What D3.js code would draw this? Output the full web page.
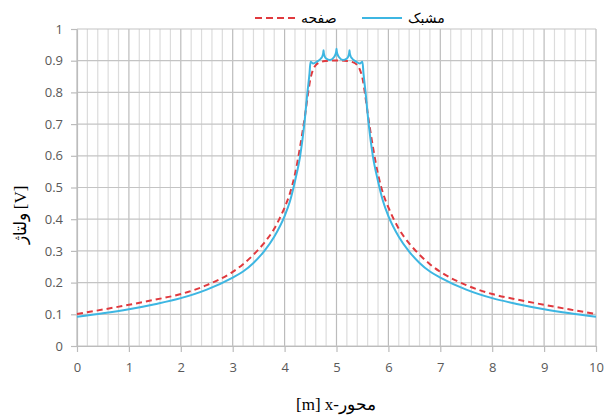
<!DOCTYPE html>
<html>
<head>
<meta charset="utf-8">
<script src="https://cdn.jsdelivr.net/npm/d3@7"></script>
<style>
  body { margin: 0; background: #fff; }
</style>
</head>
<body>
<svg></svg>
<script>
// x positions along the axis [m]
var xPlate = [0, 0.5, 1, 1.5, 2, 2.5, 3, 3.2, 3.4, 3.6, 3.8, 3.9, 4.0, 4.1, 4.2, 4.3, 4.4, 4.45, 4.5, 4.55, 4.6, 4.7, 4.8, 5.0,
              5.2, 5.3, 5.4, 5.45, 5.5, 5.55, 5.6, 5.7, 5.8, 5.9, 6.0, 6.1, 6.2, 6.4, 6.6, 6.8, 7, 7.5, 8, 8.5, 9, 9.5, 10];
var vPlate = [0.101, 0.115, 0.130, 0.146, 0.164, 0.192, 0.234, 0.258, 0.288, 0.324, 0.370, 0.401, 0.437, 0.480, 0.542, 0.630, 0.735, 0.795, 0.845, 0.872, 0.886, 0.896, 0.899, 0.901,
              0.899, 0.896, 0.886, 0.872, 0.845, 0.795, 0.735, 0.630, 0.542, 0.480, 0.437, 0.401, 0.370, 0.324, 0.288, 0.258, 0.234, 0.192, 0.164, 0.146, 0.130, 0.115, 0.101];

var xMesh = [0, 0.5, 1, 1.5, 2, 2.5, 3, 3.2, 3.4, 3.6, 3.8, 4.0, 4.1, 4.2, 4.3, 4.38, 4.44, 4.48, 4.5, 4.55, 4.63, 4.7, 4.73, 4.745, 4.75, 4.755, 4.77, 4.8, 4.875,
             4.95, 4.98, 4.995, 5.0, 5.005, 5.02, 5.05, 5.125, 5.2, 5.23, 5.245, 5.25, 5.255, 5.27, 5.3, 5.37, 5.45, 5.5, 5.52, 5.56, 5.62, 5.7, 5.8, 5.9, 6.0,
             6.2, 6.4, 6.6, 6.8, 7, 7.5, 8, 8.5, 9, 9.5, 10];
var vMesh = [0.092, 0.103, 0.116, 0.132, 0.151, 0.178, 0.216, 0.235, 0.262, 0.298, 0.345, 0.410, 0.455, 0.520, 0.600, 0.700, 0.800, 0.860, 0.897, 0.891, 0.898, 0.907, 0.915, 0.925, 0.933, 0.925, 0.915, 0.907, 0.902,
             0.911, 0.920, 0.930, 0.938, 0.930, 0.920, 0.911, 0.902, 0.907, 0.915, 0.925, 0.933, 0.925, 0.915, 0.907, 0.898, 0.891, 0.897, 0.860, 0.800, 0.700, 0.600, 0.520, 0.455, 0.410,
             0.345, 0.298, 0.262, 0.235, 0.216, 0.178, 0.151, 0.132, 0.116, 0.103, 0.092];

var xTicks = [0, 1, 2, 3, 4, 5, 6, 7, 8, 9, 10];
var yTicks = [0, 0.1, 0.2, 0.3, 0.4, 0.5, 0.6, 0.7, 0.8, 0.9, 1];
var seriesNames = ["مشبک", "صفحه"];

var width = 605, height = 417;
var margin = {top: 29, right: 9, bottom: 71, left: 77};
var w = width - margin.left - margin.right,
    h = height - margin.top - margin.bottom;

var svg = d3.select("svg")
    .attr("width", width)
    .attr("height", height);

var g = svg.append("g")
    .attr("transform", "translate(" + margin.left + "," + margin.top + ")");

var x = d3.scaleLinear().domain([0, 10]).range([0, w]);
var y = d3.scaleLinear().domain([0, 1]).range([h, 0]);

// minor vertical grid every 0.2 m
g.append("g").selectAll("line")
    .data(d3.range(0, 51).map(function(i) { return i / 5; }))
    .enter().append("line")
    .attr("x1", function(d) { return x(d); })
    .attr("x2", function(d) { return x(d); })
    .attr("y1", 0).attr("y2", h)
    .attr("stroke", function(d, i) { return i % 5 === 0 ? "#bcbcbc" : "#dcdcdc"; })
    .attr("stroke-width", 1.2);

// horizontal grid
g.append("g").selectAll("line")
    .data(yTicks)
    .enter().append("line")
    .attr("x1", 0).attr("x2", w)
    .attr("y1", function(d) { return y(d); })
    .attr("y2", function(d) { return y(d); })
    .attr("stroke", "#c4c4c4")
    .attr("stroke-width", 1.2);

// axes
var xAxis = g.append("g")
    .attr("transform", "translate(0," + h + ")")
    .call(d3.axisBottom(x).tickValues(xTicks).tickSize(6).tickPadding(11).tickSizeOuter(0));
var yAxis = g.append("g")
    .call(d3.axisLeft(y).tickValues(yTicks).tickSize(6).tickPadding(8).tickSizeOuter(0)
        .tickFormat(function(d) { return d3.format("~g")(d); }));

[xAxis, yAxis].forEach(function(a) {
    a.select(".domain").attr("stroke", "#bcbcbc").attr("stroke-width", 1.2);
    a.selectAll(".tick line").attr("stroke", "#bcbcbc").attr("stroke-width", 1.2);
    a.selectAll("text")
        .attr("fill", "#595959")
        .style("font-family", "'Open Sans', sans-serif")
        .style("font-size", "13px");
});

// lines
var line = d3.line()
    .curve(d3.curveMonotoneX)
    .x(function(d) { return x(d[0]); })
    .y(function(d) { return y(d[1]); });

g.append("path")
    .datum(d3.zip(xPlate, vPlate))
    .attr("d", line)
    .attr("fill", "none")
    .attr("stroke", "#e0393e")
    .attr("stroke-width", 2)
    .attr("stroke-dasharray", "6,4");

g.append("path")
    .datum(d3.zip(xMesh, vMesh))
    .attr("d", line)
    .attr("fill", "none")
    .attr("stroke", "#3db6e2")
    .attr("stroke-width", 2);

// legend
var legend = svg.append("g");
var legendItems = [
    {name: seriesNames[0], color: "#3db6e2", dash: null, x0: 362},
    {name: seriesNames[1], color: "#e0393e", dash: "7,4", x0: 255}
];
legendItems.forEach(function(d) {
    legend.append("line")
        .attr("x1", d.x0).attr("x2", d.x0 + 40)
        .attr("y1", 18).attr("y2", 18)
        .attr("stroke", d.color)
        .attr("stroke-width", 2)
        .attr("stroke-dasharray", d.dash);
    legend.append("text")
        .attr("x", d.x0 + 46)
        .attr("y", 23)
        .attr("text-anchor", "start")
        .style("font-family", "'DejaVu Sans', sans-serif")
        .style("font-size", "14px")
        .attr("fill", "#000")
        .text(d.name);
});

// axis titles
svg.append("text")
    .attr("x", 336)
    .attr("y", 410)
    .attr("text-anchor", "middle")
    .style("font-family", "'Liberation Serif', serif")
    .style("font-size", "17px")
    .attr("direction", "ltr")
    .text("[m] x-محور");

svg.append("text")
    .attr("transform", "translate(26,215) rotate(-90)")
    .attr("text-anchor", "middle")
    .style("font-family", "'Liberation Serif', serif")
    .style("font-size", "17px")
    .attr("direction", "ltr")
    .text("ولتاژ [V]");
</script>
</body>
</html>
